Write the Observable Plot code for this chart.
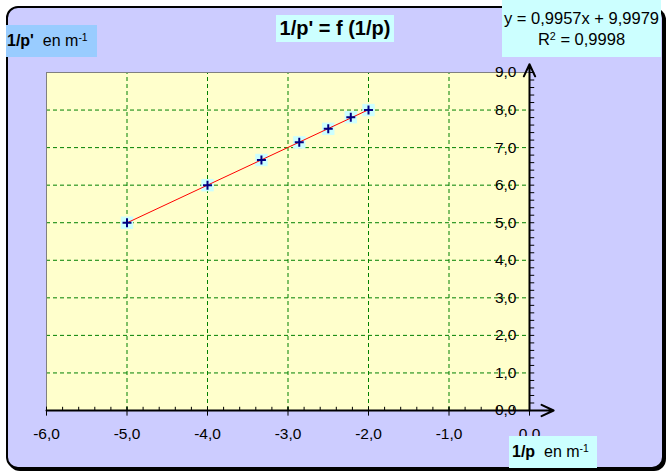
<!DOCTYPE html>
<html><head><meta charset="utf-8">
<script src="https://cdn.jsdelivr.net/npm/d3@7"></script>
<script src="https://cdn.jsdelivr.net/npm/@observablehq/plot@0.6"></script>
<style>
body{margin:0;background:#fff;font-family:"Liberation Sans",Arial,sans-serif;}
#wrap{position:relative;width:671px;height:476px;overflow:hidden;}
#frame{position:absolute;left:6px;top:6px;width:654px;height:459px;border:2px solid #000;border-radius:12px;background:#CCCCFF;box-shadow:2px 2px 0 #000;}
#chart{position:absolute;left:0;top:0;}
.box{position:absolute;color:#000;white-space:nowrap;}
#title{left:276px;top:15px;width:118px;height:27px;line-height:27px;background:#CCFFFF;text-align:center;font-weight:bold;font-size:20px;}
#ylab{left:6px;top:25px;width:91px;height:32px;line-height:32px;background:#99CCFF;font-size:16px;padding-left:1px;box-sizing:border-box;}
#eq{left:502px;top:0px;width:159px;height:57px;background:#CCFFFF;text-align:center;font-size:16.5px;line-height:21px;padding-top:8px;box-sizing:border-box;}
#xlab{left:509px;top:436px;width:88px;height:32px;line-height:32px;background:#CCFFFF;font-size:16px;padding-left:3px;box-sizing:border-box;}
sup{font-size:0.65em;vertical-align:0.5em;line-height:0;}
</style></head><body>
<div id="wrap">
  <div id="frame"></div>
  <div id="chart"></div>
  <div class="box" id="title">1/p' = f (1/p)</div>
  <div class="box" id="ylab"><b>1/p'</b>&nbsp; en m<sup>-1</sup></div>
  <div class="box" id="eq">y = 0,9957x + 9,9979<br>R<sup>2</sup> = 0,9998</div>
  <div class="box" id="xlab"><b>1/p</b>&nbsp; en m<sup>-1</sup></div>
</div>
<script>
const invP = [-5, -4, -3.33, -2.86, -2.5, -2.22, -2.0];
const invPprime = [5.0, 6.0, 6.67, 7.14, 7.5, 7.81, 8.0];
const xTicks = [-6, -5, -4, -3, -2, -1, 0];
const yTicks = [0, 1, 2, 3, 4, 5, 6, 7, 8, 9];
const xGrid = [-5, -4, -3, -2, -1];
const yGrid = [1, 2, 3, 4, 5, 6, 7, 8];
const xMinor = d3.range(-6, 0.001, 0.2);
const yMinor = d3.range(0, 9.001, 0.2);

const data = invP.map((x, i) => ({x, y: invPprime[i]}));
const fmt = d => d.toFixed(1).replace(".", ",");

const plot = Plot.plot({
  width: 671, height: 476,
  marginLeft: 46, marginRight: 142, marginTop: 72, marginBottom: 66,
  x: {domain: [-6, 0], axis: null},
  y: {domain: [0, 9], axis: null},
  style: {background: "transparent", fontFamily: "Liberation Sans, Arial, sans-serif", color: "#000", overflow: "visible"},
  marks: [
    Plot.rect([{}], {x1: () => -6, x2: () => 0, y1: () => 0, y2: () => 9, fill: "#FFFFCC"}),
    Plot.ruleX(xGrid, {y1: 0, y2: 9, stroke: "#008000", strokeDasharray: "4,3"}),
    Plot.ruleY(yGrid, {x1: -6, x2: 0, stroke: "#008000", strokeDasharray: "4,3"}),
    Plot.ruleY([9], {x1: -6, x2: 0, stroke: "#808080"}),
    Plot.ruleX([-6], {y1: 0, y2: 9, stroke: "#808080"}),
    Plot.ruleX(xMinor, {y1: 0, y2: 0.085, stroke: "#000"}),
    Plot.ruleX(xTicks, {y1: -0.15, y2: 0.085, stroke: "#000"}),
    Plot.ruleY(yMinor, {x1: 0, x2: 0.065, stroke: "#000"}),
    Plot.arrow([{}], {x1: () => -6, y1: () => 0, x2: () => 0.3, y2: () => 0, stroke: "#000", strokeWidth: 2, headLength: 10, headAngle: 50}),
    Plot.arrow([{}], {x1: () => 0, y1: () => 0, x2: () => 0, y2: () => 9.22, stroke: "#000", strokeWidth: 2, headLength: 10, headAngle: 50}),
    Plot.axisY({anchor: "right", ticks: yTicks, tickFormat: fmt, tickSize: 0, tickPadding: 0, textAnchor: "end", dx: -13, fontSize: 15.5, label: null}),
    Plot.axisX({anchor: "bottom", ticks: xTicks, tickFormat: fmt, tickSize: 0, tickPadding: 17, fontSize: 15.5, label: null}),
    Plot.dot(data, {x: "x", y: "y", symbol: "square", r: 7, fill: "#CCFFFF", stroke: null}),
    Plot.linearRegressionY(data, {x: "x", y: "y", stroke: "#FF0000", strokeWidth: 1, ci: 0}),
    Plot.dot(data, {x: "x", y: "y", symbol: "plus", r: 3, stroke: "#000080", strokeWidth: 2})
  ]
});
document.getElementById("chart").appendChild(plot);
</script>
</body></html>
